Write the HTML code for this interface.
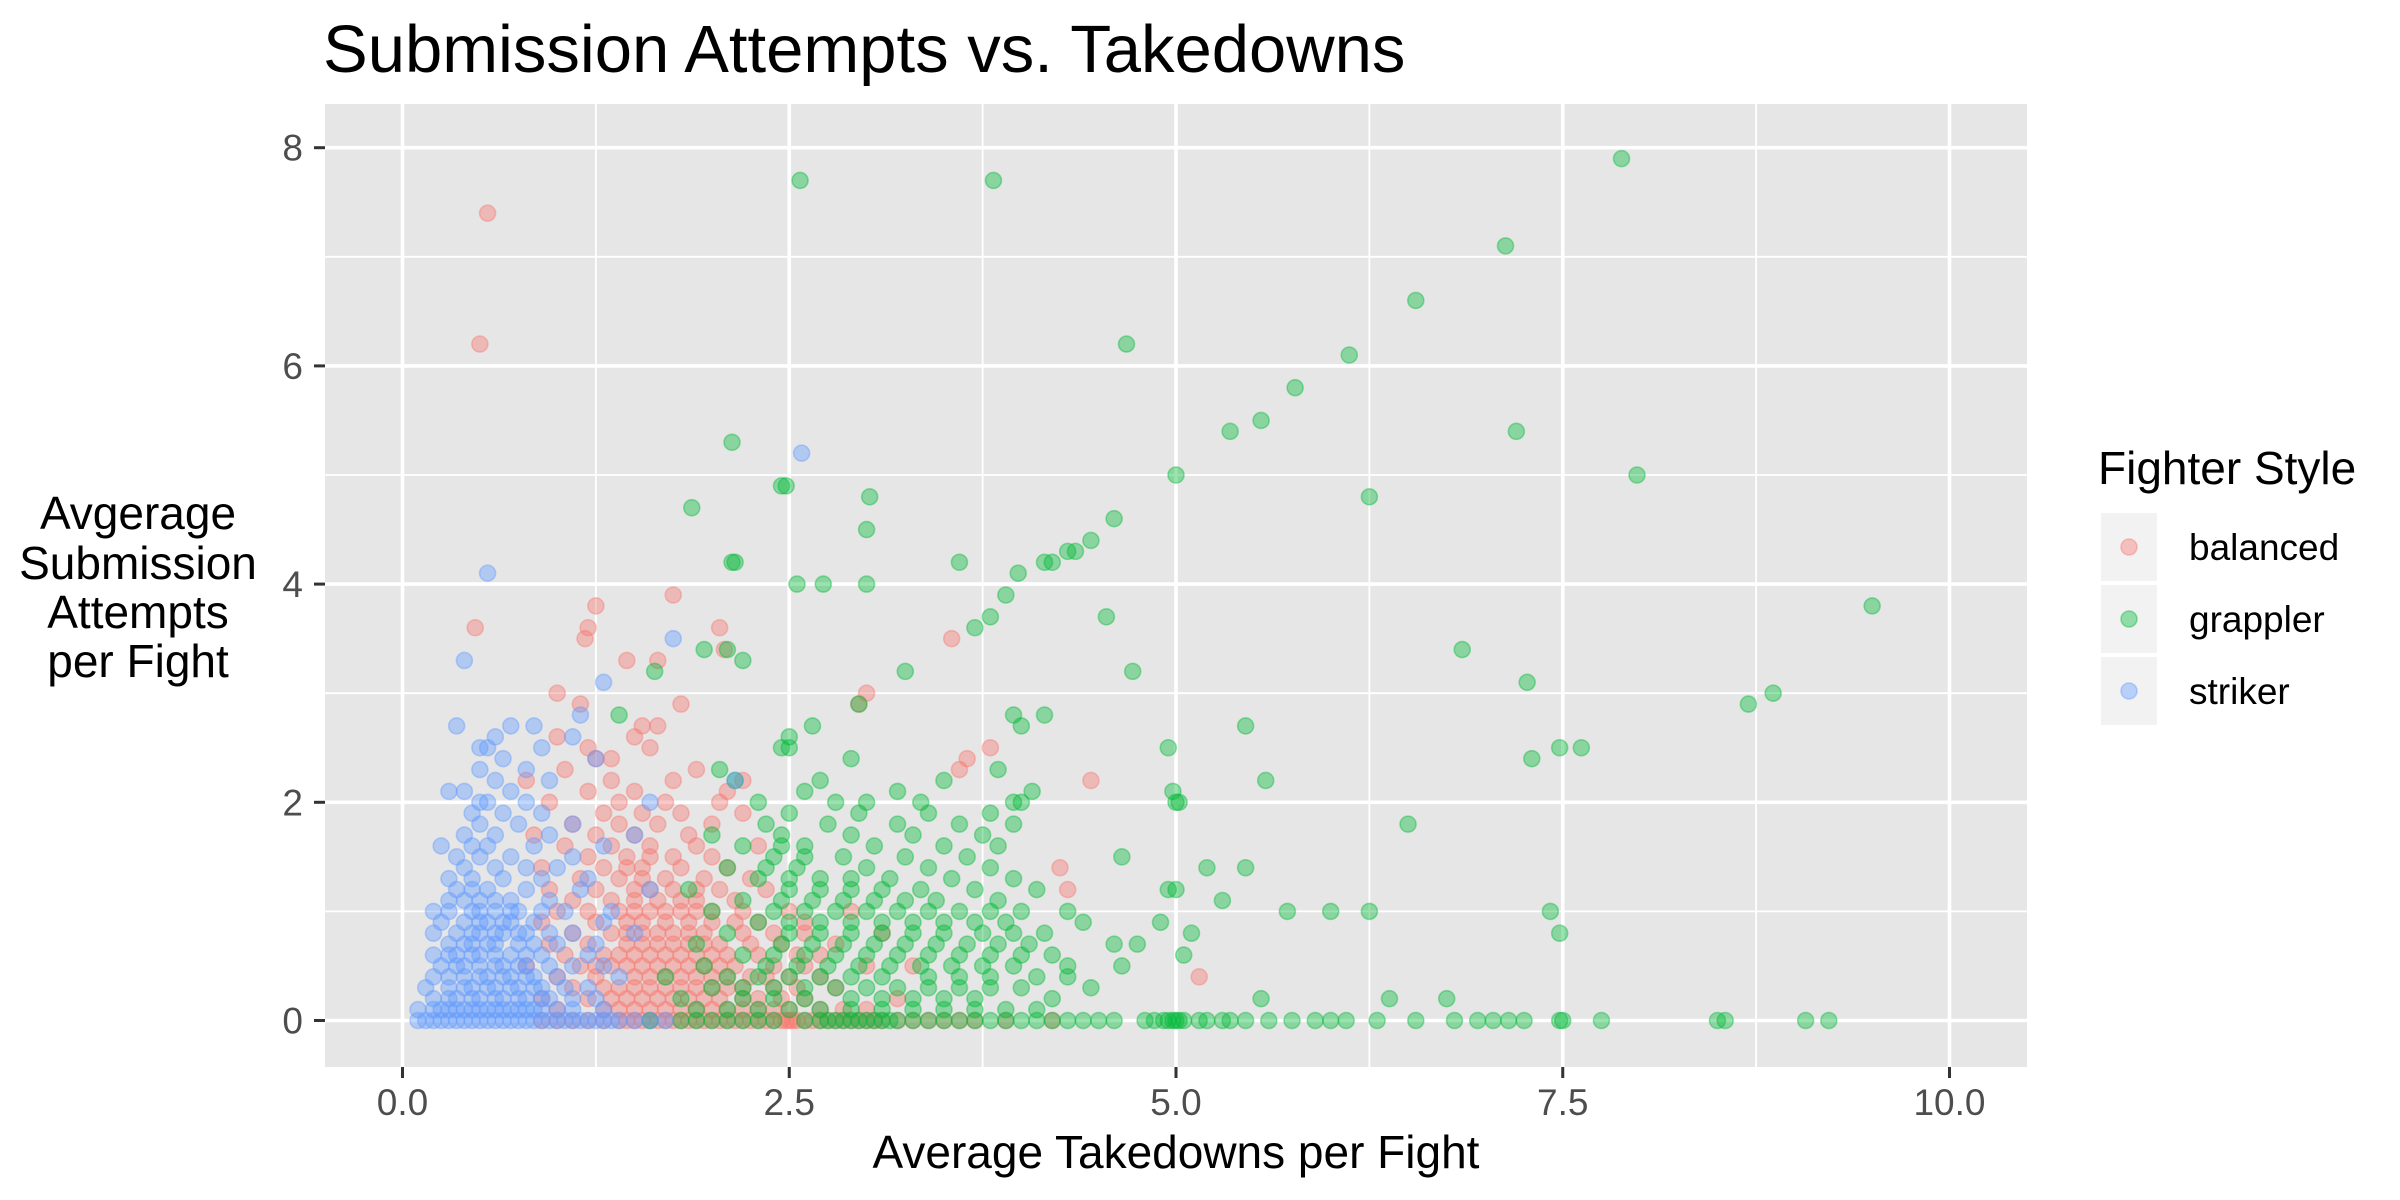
<!DOCTYPE html>
<html><head><meta charset="utf-8">
<style>
html,body{margin:0;padding:0;background:#fff;}
svg{display:block;font-family:"Liberation Sans",Arial,sans-serif;}
</style></head>
<body>
<svg id="chart" width="2400" height="1200" viewBox="0 0 2400 1200" xmlns="http://www.w3.org/2000/svg">
<text x="323" y="72" font-size="67" fill="#000">Submission Attempts vs. Takedowns</text>
<rect x="325" y="104" width="1702" height="963" fill="#E6E6E6"/>
<g id="grid"></g>
<g id="points"></g>
<g id="axes"></g>
<text x="1176" y="1168" font-size="46" text-anchor="middle" fill="#000">Average Takedowns per Fight</text>
<g font-size="46" text-anchor="middle" fill="#000">
<text x="138" y="529">Avgerage</text>
<text x="138" y="579">Submission</text>
<text x="138" y="628">Attempts</text>
<text x="138" y="677">per Fight</text>
</g>
<g id="legend">
<text x="2098" y="484" font-size="46" fill="#000">Fighter Style</text>
</g>
</svg>
<script>
const xTicks = [0, 2.5, 5, 7.5, 10];
const xTickLabels = ["0.0", "2.5", "5.0", "7.5", "10.0"];
const xMinor = [1.25, 3.75, 6.25, 8.75];
const yTicks = [0, 2, 4, 6, 8];
const yTickLabels = ["0", "2", "4", "6", "8"];
const yMinor = [1, 3, 5, 7];
const styles = ["balanced", "grappler", "striker"];
const colors = ["#F8766D", "#00BA38", "#619CFF"];

function rows(spec){const out=[];for(const r of spec){const y=r[0];for(const x of r[1])out.push([x,y]);}return out;}

const balancedRows = [
[0,[0.9,1.0,1.1,1.2,1.3,1.4,1.5,1.6,1.7,1.8,1.9,2.0,2.1,2.2,2.3,2.4,2.45,2.5,2.55,2.6,2.7,2.8,2.9,3.0,3.1,3.2,3.3,3.5,3.7,3.9,4.2]],
[0,[1.45,1.55,1.65,1.75,1.85,1.95,2.05,2.15,2.25,2.35,2.48,2.52,2.65,2.75,2.85,2.95,3.05,3.4,3.6]],
[0.1,[1.0,1.3,1.5,1.7,1.9,2.1,2.3,2.5,2.7,3.0,1.4,1.6,1.8,2.0,2.2,2.4,2.85]],
[0.2,[0.9,1.2,1.45,1.65,1.85,2.05,2.3,2.6,3.2,1.35,1.55,1.75,1.95,2.2,2.45]],
[0.3,[1.1,1.4,1.6,1.8,2.0,2.2,2.4,2.8,1.3,1.5,1.7,1.9,2.1,2.55]],
[0.4,[1.0,1.25,1.5,1.7,1.9,2.1,2.35,2.5,2.7,5.15,1.6,1.8,2.0,2.25]],
[0.5,[0.8,1.15,1.35,1.55,1.75,1.95,2.15,2.4,2.6,3.0,3.3,1.25,1.45,1.65,1.85,2.05]],
[0.6,[1.05,1.3,1.5,1.7,1.9,2.1,2.3,2.55,1.4,1.6,1.8,2.0,2.7]],
[0.7,[0.95,1.2,1.45,1.65,1.85,2.05,2.25,2.45,2.8,1.55,1.75,1.95]],
[0.8,[1.1,1.35,1.55,1.75,1.95,2.2,2.4,3.1,1.45,1.65,1.85,2.6]],
[0.9,[0.9,1.25,1.45,1.7,2.0,2.3,2.6,1.55,1.85,2.15]],
[1.0,[1.0,1.2,1.4,1.6,1.8,2.0,2.2,2.5,2.9,1.5,1.7,1.9]],
[1.1,[1.1,1.35,1.65,1.9,2.15,1.5,1.8]],
[1.2,[0.95,1.25,1.5,1.75,2.05,2.35,4.3,1.6,1.9]],
[1.3,[1.15,1.4,1.7,1.95,2.25,1.55]],
[1.4,[0.9,1.3,1.55,1.8,2.1,4.25,1.45]],
[1.5,[1.2,1.45,1.75,2.0,1.6]],
[1.6,[1.05,1.35,1.6,1.9,2.3]],
[1.7,[0.85,1.25,1.5,1.85]],
[1.8,[1.1,1.4,1.65,2.0]],
[1.9,[1.3,1.55,1.8,2.2]],
[2.0,[0.95,1.4,1.7,2.05]],
[2.1,[1.2,1.5,2.1]],
[2.2,[0.8,1.35,1.75,2.2,4.45]],
[2.3,[1.05,1.9,3.6]],
[2.4,[1.25,1.35,3.65]],
[2.5,[1.2,1.6,3.8]],
[2.6,[1.0,1.5]],
[2.7,[1.55,1.65]],
[2.9,[1.15,1.8,2.95]],
[3.0,[1.0,3.0]],
[3.3,[1.45,1.65]],
[3.4,[2.08]],
[3.5,[1.18,3.55]],
[3.6,[0.47,1.2,2.05]],
[3.8,[1.25]],
[3.9,[1.75]],
[6.2,[0.5]],
[7.4,[0.55]]
];
const grapplerRows = [
[0,[1.6,1.8,2.0,2.2,2.4,2.6,2.7,2.8,2.9,3.0,3.1,3.2,3.3,3.5,3.7,3.9,4.0,4.1,4.3,4.5,4.6,4.8,4.86,4.92,4.95,5.0,5.05,5.15,5.2,5.3,5.35,5.45,5.6,5.75,5.9,6.0,6.1,6.3,6.55,6.8,6.95,7.05,7.15,7.25,7.5,7.75,8.5,8.55,9.07,9.22]],
[0,[1.9,2.1,2.3,2.75,2.85,2.95,3.05,3.15,3.4,3.6,3.8,4.2,4.4,4.98,5.02,7.48]],
[0.1,[1.9,2.3,2.7,3.1,3.5,3.9,2.1,2.5,2.9,3.3,3.7,4.1]],
[0.2,[1.8,2.2,2.6,2.9,3.3,3.7,4.2,5.55,6.38,6.75,2.4,3.1,3.5]],
[0.3,[2.0,2.4,2.8,3.2,3.6,4.0,4.45,2.2,2.6,3.0,3.4,3.8]],
[0.4,[1.7,2.1,2.5,2.9,3.4,3.8,4.1,2.3,2.7,3.1,3.6,4.3]],
[0.5,[1.95,2.35,2.75,3.15,3.55,3.95,4.3,4.65,2.55,2.95,3.35,3.75]],
[0.6,[2.2,2.6,3.0,3.4,3.8,4.2,5.05,2.4,2.8,3.2,3.6,4.0]],
[0.7,[1.9,2.45,2.85,3.25,3.65,4.05,4.6,4.75,2.65,3.05,3.45,3.85]],
[0.8,[2.1,2.5,2.9,3.3,3.75,4.15,5.1,7.48,2.7,3.1,3.5,3.95]],
[0.9,[2.3,2.7,3.1,3.5,3.9,4.4,4.9,2.5,2.9,3.3,3.7]],
[1.0,[2.0,2.4,2.8,3.0,3.2,3.6,4.0,4.3,5.72,6.0,6.25,7.42,2.6,3.4,3.8]],
[1.1,[2.2,2.65,3.05,3.45,3.85,5.3,2.45,2.85,3.25]],
[1.2,[1.85,2.5,2.9,3.35,3.7,4.1,4.95,5.0,2.7,3.1]],
[1.3,[2.3,2.7,3.15,3.55,3.95,2.5,2.9]],
[1.4,[2.1,2.55,3.0,3.4,3.8,5.2,5.45,2.35]],
[1.5,[2.4,2.85,3.25,3.65,4.65,2.6]],
[1.6,[2.2,2.6,3.05,3.5,3.85,2.45]],
[1.7,[2.0,2.45,2.9,3.3,3.75]],
[1.8,[2.35,2.75,3.2,3.6,3.95,6.5]],
[1.9,[2.5,2.95,3.4,3.8]],
[2.0,[2.3,2.8,3.0,3.35,3.95,4.0,5.0,5.02]],
[2.1,[2.6,3.2,4.07,4.98]],
[2.2,[2.15,2.7,3.5,5.58]],
[2.3,[2.05,3.85]],
[2.4,[2.9,7.3]],
[2.5,[2.45,2.5,4.95,7.48,7.62]],
[2.6,[2.5]],
[2.7,[2.65,4.0,5.45]],
[2.8,[1.4,3.95,4.15]],
[2.9,[2.95,8.7]],
[3.0,[8.86]],
[3.1,[7.27]],
[3.2,[1.63,3.25,4.72]],
[3.3,[2.2]],
[3.4,[1.95,2.1,6.85]],
[3.6,[3.7]],
[3.7,[3.8,4.55]],
[3.8,[9.5]],
[3.9,[3.9]],
[4.0,[2.55,2.72,3.0]],
[4.1,[3.98]],
[4.2,[2.13,2.15,3.6,4.15,4.2]],
[4.3,[4.3,4.35]],
[4.4,[4.45]],
[4.5,[3.0]],
[4.6,[4.6]],
[4.7,[1.87]],
[4.8,[3.02,6.25]],
[4.9,[2.45,2.48]],
[5.0,[5.0,7.98]],
[5.3,[2.13]],
[5.4,[5.35,7.2]],
[5.5,[5.55]],
[5.8,[5.77]],
[6.1,[6.12]],
[6.2,[4.68]],
[6.6,[6.55]],
[7.1,[7.13]],
[7.7,[2.57,3.82]],
[7.9,[7.88]]
];
const strikerRows = [
[0,[0.1,0.15,0.2,0.25,0.3,0.35,0.4,0.45,0.5,0.55,0.6,0.65,0.7,0.75,0.8,0.85,0.9,0.95,1.0,1.05,1.1,1.2,1.3,1.4,1.5,1.15,1.25,1.35,1.6,1.7]],
[0.1,[0.1,0.2,0.3,0.4,0.5,0.6,0.7,0.8,0.9,1.0,1.1,1.3,0.25,0.35,0.45,0.55,0.65,0.75,0.85]],
[0.2,[0.2,0.35,0.5,0.65,0.8,0.95,1.1,1.25,0.3,0.45,0.6,0.75,0.9]],
[0.3,[0.15,0.3,0.45,0.6,0.75,0.9,1.05,1.2,0.4,0.55,0.7,0.85]],
[0.4,[0.2,0.4,0.55,0.7,0.85,1.0,1.4,0.3,0.5,0.65,0.8]],
[0.5,[0.25,0.4,0.5,0.65,0.8,0.95,1.1,1.3,0.35,0.6,0.75]],
[0.6,[0.2,0.35,0.5,0.7,0.9,1.2,0.3,0.45,0.6,0.8]],
[0.7,[0.3,0.45,0.6,0.75,1.0,1.25,0.4,0.55,0.85]],
[0.8,[0.2,0.35,0.5,0.65,0.8,0.95,1.1,1.5,0.45,0.6,0.75]],
[0.9,[0.25,0.4,0.55,0.7,0.85,1.3,0.5,0.65]],
[1.0,[0.2,0.3,0.45,0.6,0.75,0.9,1.05,1.35,0.5,0.7]],
[1.1,[0.3,0.5,0.7,0.95,0.4,0.6]],
[1.2,[0.35,0.55,0.8,1.15,1.6,0.45]],
[1.3,[0.3,0.45,0.65,0.9,1.2]],
[1.4,[0.4,0.6,0.8,1.0]],
[1.5,[0.35,0.5,0.7,1.1]],
[1.6,[0.25,0.45,0.55,0.85,1.3]],
[1.7,[0.4,0.6,0.95,1.5]],
[1.8,[0.5,0.75,1.1]],
[1.9,[0.45,0.65,0.9]],
[2.0,[0.5,0.55,0.8,1.6]],
[2.1,[0.3,0.4,0.7]],
[2.2,[0.6,0.95,2.15]],
[2.3,[0.5,0.8]],
[2.4,[0.65,1.25]],
[2.5,[0.5,0.55,0.9]],
[2.6,[0.6,1.1]],
[2.7,[0.35,0.7,0.85]],
[2.8,[1.15]],
[3.1,[1.3]],
[3.3,[0.4]],
[3.5,[1.75]],
[4.1,[0.55]],
[5.2,[2.58]]
];

const NS="http://www.w3.org/2000/svg";
const PL=325, PR=2027, PT=104, PB=1067;
function xs(v){return 402.5 + v*154.7;}
function ys(v){return 1020.5 - v*109.1;}
function mk(tag,attrs,parent){const e=document.createElementNS(NS,tag);for(const k in attrs)e.setAttribute(k,attrs[k]);parent.appendChild(e);return e;}

const grid=document.getElementById('grid');
for(const v of yMinor){const l=mk('line',{x1:PL,x2:PR,y1:ys(v),y2:ys(v),stroke:'#fff','stroke-width':1.8},grid);

}
for(const v of xMinor){const l=mk('line',{x1:xs(v),x2:xs(v),y1:PT,y2:PB,stroke:'#fff','stroke-width':1.8},grid);

}
for(const v of yTicks){const l=mk('line',{x1:PL,x2:PR,y1:ys(v),y2:ys(v),stroke:'#fff','stroke-width':3.6},grid);

}
for(const v of xTicks){const l=mk('line',{x1:xs(v),x2:xs(v),y1:PT,y2:PB,stroke:'#fff','stroke-width':3.6},grid);

}

const pts=document.getElementById('points');
const series=[balancedRows, grapplerRows, strikerRows];
series.forEach((spec,i)=>{
  const g=mk('g',{},pts);
  
  
  for(const p of rows(spec)){
    const c=mk('circle',{cx:xs(p[0]),cy:ys(p[1]),r:8,fill:colors[i],'fill-opacity':0.4,stroke:colors[i],'stroke-opacity':0.4,'stroke-width':1.6},g);
    
    
  }
});

const axes=document.getElementById('axes');
xTicks.forEach((v,i)=>{
  const t=mk('line',{x1:xs(v),x2:xs(v),y1:PB,y2:PB+11,stroke:'#333','stroke-width':3},axes);
  
  
  const tx=mk('text',{x:xs(v),y:1115,'font-size':37,'text-anchor':'middle',fill:'#4D4D4D'},axes);
  tx.textContent=xTickLabels[i];
  
  
});
yTicks.forEach((v,i)=>{
  const t=mk('line',{x1:PL-11,x2:PL,y1:ys(v),y2:ys(v),stroke:'#333','stroke-width':3},axes);
  
  
  const tx=mk('text',{x:303,y:ys(v)+13,'font-size':37,'text-anchor':'end',fill:'#4D4D4D'},axes);
  tx.textContent=yTickLabels[i];
  
  
});

const leg=document.getElementById('legend');
styles.forEach((s,i)=>{
  const top=512+i*72;
  const k=mk('rect',{x:2100,y:top,width:58,height:70,fill:'#F2F2F2',stroke:'#fff','stroke-width':2},leg);
  
  
  const c=mk('circle',{cx:2129,cy:top+35,r:8,fill:colors[i],'fill-opacity':0.4,stroke:colors[i],'stroke-opacity':0.4,'stroke-width':1.6},leg);
  
  
  const t=mk('text',{x:2189,y:top+48,'font-size':37,fill:'#000'},leg);
  t.textContent=s;
  
  
});
</script>
</body></html>
